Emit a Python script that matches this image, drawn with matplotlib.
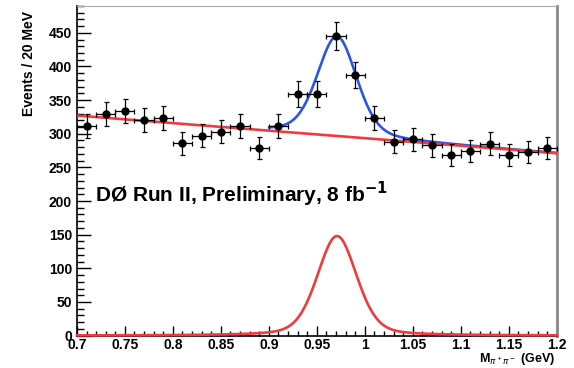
import numpy as np
import matplotlib
matplotlib.use("Agg")
import matplotlib.pyplot as plt
from matplotlib.ticker import MultipleLocator

plt.rcParams['font.family'] = ['Liberation Sans', 'DejaVu Sans']

# binned data (20 MeV bins)
mass = [0.71, 0.73, 0.75, 0.77, 0.79, 0.81, 0.83, 0.85, 0.87, 0.89, 0.91, 0.93, 0.95,
        0.97, 0.99, 1.01, 1.03, 1.05, 1.07, 1.09, 1.11, 1.13, 1.15, 1.17, 1.19]
events = [311, 329, 334, 321, 323, 286, 297, 303, 311, 279, 311, 359, 359,
          445, 387, 323, 288, 292, 283, 268, 274, 285, 269, 273, 279]

# fit parameters
bg_left, bg_right = 327, 271      # linear background at 0.7 and 1.2 GeV
sig_amp, sig_mean, sig_fwhm, sig_mix = 148, 0.971, 0.0486, 0.3   # pseudo-Voigt peak

x = np.linspace(0.7, 1.2, 800)
bg = bg_left + (bg_right - bg_left) * (x - 0.7) / 0.5
gs = sig_fwhm / 2.3548
gauss = np.exp(-0.5 * ((x - sig_mean) / gs) ** 2)
lorentz = 1.0 / (1.0 + ((x - sig_mean) / (sig_fwhm / 2)) ** 2)
sig = sig_amp * (sig_mix * lorentz + (1 - sig_mix) * gauss)

fig = plt.figure(figsize=(5.74, 3.68), dpi=100)
ax = fig.add_axes([0.134, 0.088, 0.836, 0.896])

tot = x >= 0.9
ax.plot(x[tot], bg[tot] + sig[tot], color='#2a55e8', lw=1.9, zorder=3)
ax.plot(x, bg, color='#ee3b3b', lw=1.9, zorder=4)
ax.plot(x, sig, color='#ee3b3b', lw=1.9, zorder=4, clip_on=False)

ax.errorbar(mass, events, yerr=np.sqrt(events), xerr=0.01, fmt='o', color='black',
            ms=5, elinewidth=0.9, capsize=1.8, capthick=0.9, zorder=5)

ax.set_xlim(0.7, 1.2)
ax.set_ylim(0, 490)
ax.xaxis.set_minor_locator(MultipleLocator(0.01))
ax.yaxis.set_major_locator(MultipleLocator(50))
ax.yaxis.set_minor_locator(MultipleLocator(10))
ax.set_xticks(np.arange(0.7, 1.2001, 0.05))
ax.set_xticklabels(['0.7', '0.75', '0.8', '0.85', '0.9', '0.95', '1', '1.05', '1.1', '1.15', '1.2'])
ax.tick_params(which='both', direction='in', top=False, right=False, labelsize=10, width=1)
ax.tick_params(axis='y', which='major', length=10)
ax.tick_params(axis='y', which='minor', length=5)
ax.tick_params(axis='x', which='major', length=7, pad=2)
ax.tick_params(axis='x', which='minor', length=3.5)
for lab in ax.get_xticklabels() + ax.get_yticklabels():
    lab.set_fontweight('bold')
ax.spines['left'].set_linewidth(1.2)
ax.spines['bottom'].set_linewidth(1.2)
ax.spines['right'].set_color('#888888')
ax.spines['right'].set_linewidth(2)
ax.spines['top'].set_color('#aaaaaa')
ax.spines['top'].set_linewidth(0.8)

ax.set_ylabel('Events / 20 MeV', fontsize=10, fontweight='bold', ha='right')
ax.yaxis.set_label_coords(-0.085, 0.986)
ax.set_xlabel(r'M$_{\pi^+\pi^-}$ (GeV)', fontsize=9, fontweight='bold', ha='right', va='top')
ax.xaxis.set_label_coords(0.997, -0.048)

ax.text(0.719, 210, r'DØ Run II, Preliminary, 8 fb$^{\mathbf{-1}}$', fontsize=15,
        fontweight='bold', va='center', ha='left')

fig.savefig('out.png', dpi=100)
